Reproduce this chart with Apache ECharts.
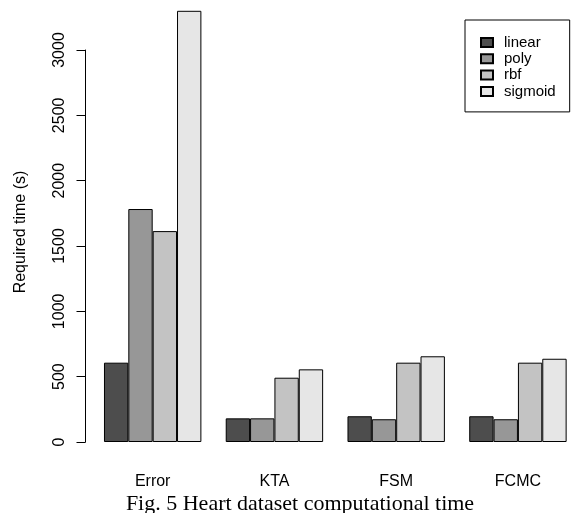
<!DOCTYPE html>
<html>
<head>
<meta charset="utf-8">
<script src="https://cdn.jsdelivr.net/npm/echarts@6/dist/echarts.min.js"></script>
<style>html,body{margin:0;padding:0;background:#fff;}#c{width:571px;height:513px;}</style>
</head>
<body>
<div id="c"></div>
<script>
var categories = ['Error', 'KTA', 'FSM', 'FCMC'];
var seriesNames = ['linear', 'poly', 'rbf', 'sigmoid'];
var linearVals = [607, 181, 197, 197];
var polyVals = [1783, 181, 174, 174];
var rbfVals = [1614, 492, 607, 607];
var sigmoidVals = [3300, 556, 656, 637];
var yTicks = [0, 500, 1000, 1500, 2000, 2500, 3000];
var colors = ['#4d4d4d', '#979797', '#c3c3c3', '#e6e6e6'];

var sans = '"Liberation Sans", Arial, sans-serif';
var allVals = [linearVals, polyVals, rbfVals, sigmoidVals];
var chart = echarts.init(document.getElementById('c'));
chart.setOption({
  animation: false,
  title: {
    text: 'Fig. 5 Heart dataset computational time',
    left: 295, top: 488, textAlign: 'center',
    textStyle: { fontFamily: '"Liberation Serif", "Times New Roman", serif', fontSize: 22, fontWeight: 'normal', color: '#000' }
  },
  legend: {
    data: seriesNames,
    orient: 'vertical',
    left: 465, top: 20,
    padding: [15, 14, 13, 15],
    borderColor: '#000', borderWidth: 1,
    itemWidth: 12, itemHeight: 9, itemGap: 1.3,
    icon: 'rect',
    textStyle: { fontFamily: sans, fontSize: 15, color: '#000', lineHeight: 15, padding: [0, 0, 0, 6] }
  },
  grid: { left: 91.8, top: 50, width: 487, height: 392, outerBoundsMode: 'none', containLabel: false },
  xAxis: {
    type: 'category', data: categories,
    axisLine: { show: false }, axisTick: { show: false },
    axisLabel: { margin: 32, fontFamily: sans, fontSize: 16, color: '#000' }
  },
  yAxis: {
    type: 'value', min: 0, max: 3000, interval: 500,
    offset: 6.3,
    name: 'Required time (s)', nameLocation: 'middle', nameRotate: 90, nameGap: 57,
    nameTextStyle: { fontFamily: sans, fontSize: 16, color: '#000', padding: [0, 0, 0, 28] },
    axisLine: { show: true, lineStyle: { color: '#000', width: 1 } },
    axisTick: { show: true, length: 9, lineStyle: { color: '#000' } },
    axisLabel: { rotate: 90, margin: 18, fontFamily: sans, fontSize: 16, color: '#000',
      formatter: function (v) { return yTicks.indexOf(v) >= 0 ? String(v) : ''; } },
    splitLine: { show: false }
  },
  series: seriesNames.map(function (n, i) {
    return {
      name: n, type: 'bar', data: allVals[i], clip: false,
      barGap: '0%', barCategoryGap: '20%',
      itemStyle: { color: colors[i], borderColor: '#000', borderWidth: 1 }
    };
  })
});
</script>
</body>
</html>
